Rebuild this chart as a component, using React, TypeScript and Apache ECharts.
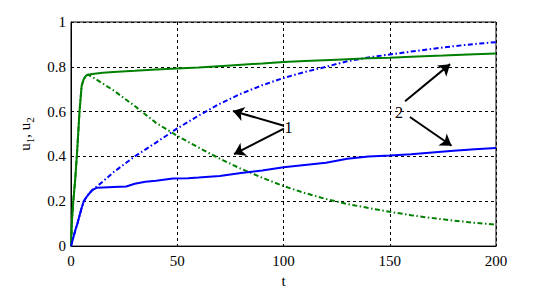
import React, { useEffect, useRef } from "react";
import * as echarts from "echarts";

// ---- data ----
const tGreenSolid = [0, 0.5, 1, 2, 3, 4, 5, 6, 7, 8, 10, 15, 20, 30, 40, 50, 60, 75, 90, 100, 110, 125, 140, 150, 160, 175, 190, 200];
const uGreenSolid = [0, 0.12, 0.19, 0.3, 0.44, 0.6, 0.715, 0.745, 0.76, 0.765, 0.768, 0.774, 0.777, 0.782, 0.788, 0.793, 0.797, 0.806, 0.815, 0.822, 0.826, 0.832, 0.838, 0.841, 0.845, 0.85, 0.856, 0.859];

const tGreenDash = [0, 0.5, 1, 2, 3, 4, 5, 6, 7, 8, 10, 15, 20, 30, 40, 50, 60, 70, 80, 90, 100, 110, 120, 130, 140, 150, 160, 170, 180, 190, 200];
const uGreenDash = [0, 0.12, 0.19, 0.3, 0.44, 0.6, 0.715, 0.745, 0.76, 0.765, 0.755, 0.725, 0.695, 0.625, 0.55, 0.492, 0.44, 0.39, 0.345, 0.305, 0.268, 0.237, 0.21, 0.188, 0.17, 0.153, 0.138, 0.125, 0.114, 0.104, 0.096];

const tBlueSolid = [0, 1, 2, 3, 4, 5, 6, 7, 8, 10, 12, 15, 20, 26, 30, 35, 40, 48, 55, 60, 70, 80, 90, 100, 110, 120, 130, 140, 150, 160, 170, 180, 190, 200];
const uBlueSolid = [0, 0.035, 0.07, 0.1, 0.135, 0.17, 0.2, 0.215, 0.228, 0.25, 0.26, 0.262, 0.264, 0.266, 0.278, 0.287, 0.292, 0.302, 0.303, 0.306, 0.313, 0.326, 0.337, 0.352, 0.362, 0.372, 0.39, 0.4, 0.404, 0.41, 0.418, 0.425, 0.432, 0.438];

const tBlueDash = [0, 1, 2, 3, 4, 5, 6, 7, 8, 10, 12, 15, 20, 30, 40, 50, 60, 70, 80, 90, 100, 110, 120, 130, 140, 150, 160, 170, 180, 190, 200];
const uBlueDash = [0, 0.035, 0.07, 0.1, 0.135, 0.17, 0.2, 0.215, 0.228, 0.25, 0.265, 0.288, 0.33, 0.4, 0.462, 0.525, 0.582, 0.635, 0.68, 0.718, 0.75, 0.777, 0.8, 0.825, 0.842, 0.855, 0.868, 0.88, 0.892, 0.902, 0.91];

// annotation arrows (data coordinates: [tail], [tip])
const arrowTails = [[100.2, 0.537], [100.2, 0.524], [157.2, 0.646], [159.5, 0.576]];
const arrowTips = [[76.2, 0.603], [76.7, 0.41], [178.4, 0.812], [179.1, 0.448]];
const annotationLabels = ["1", "2"];
const annotationPos = [[102.3, 0.528], [154.4, 0.598]];

const FONT = "'Liberation Serif', 'Times New Roman', serif";

const zip = (t: number[], u: number[]) => t.map((v, i) => [v, u[i]]);

export default function App() {
  const ref = useRef<HTMLDivElement>(null);
  useEffect(() => {
    document.body.style.margin = "0";
    const chart = echarts.init(ref.current!, undefined, { renderer: "svg" });
    const dashDot = [5, 2.5, 1.5, 2.5];
    chart.setOption({
      animation: false,
      backgroundColor: "#fff",
      grid: { left: 71, right: 53, top: 22, bottom: 42, show: true, borderColor: "#000", borderWidth: 1, backgroundColor: "transparent" },
      xAxis: {
        type: "value",
        min: 0,
        max: 200,
        interval: 50,
        name: "t",
        nameLocation: "middle",
        nameGap: 25,
        nameTextStyle: { fontFamily: FONT, fontSize: 15, color: "#000" },
        axisLine: { show: true, lineStyle: { color: "#000", width: 1 } },
        axisTick: { show: false },
        axisLabel: { fontFamily: FONT, fontSize: 15, color: "#000", margin: 7 },
        splitLine: { show: true, lineStyle: { color: "#000", type: [3, 3], width: 1 } },
      },
      yAxis: {
        type: "value",
        min: 0,
        max: 1,
        interval: 0.2,
        name: "{a|u}{b|1}{a|, u}{b|2}",
        nameLocation: "middle",
        nameRotate: 90,
        nameGap: 36,
        nameTextStyle: {
          fontFamily: FONT,
          color: "#000",
          rich: {
            a: { fontFamily: FONT, fontSize: 15, color: "#000", lineHeight: 20, verticalAlign: "middle" },
            b: { fontFamily: FONT, fontSize: 11, color: "#000", lineHeight: 20, verticalAlign: "bottom" },
          },
        },
        axisLine: { show: true, lineStyle: { color: "#000", width: 1 } },
        axisTick: { show: false },
        axisLabel: { fontFamily: FONT, fontSize: 15, color: "#000", margin: 5 },
        splitLine: { show: true, lineStyle: { color: "#000", type: [3, 3], width: 1 } },
      },
      series: [
        {
          type: "line",
          data: zip(tGreenDash, uGreenDash),
          showSymbol: false,
          symbol: "none",
          lineStyle: { color: "#008000", width: 2, type: dashDot },
        },
        {
          type: "line",
          data: zip(tBlueDash, uBlueDash),
          showSymbol: false,
          symbol: "none",
          lineStyle: { color: "#0000ff", width: 2, type: dashDot },
        },
        {
          type: "line",
          data: zip(tGreenSolid, uGreenSolid),
          showSymbol: false,
          symbol: "none",
          lineStyle: { color: "#008000", width: 2 },
        },
        {
          type: "line",
          data: zip(tBlueSolid, uBlueSolid),
          showSymbol: false,
          symbol: "none",
          lineStyle: { color: "#0000ff", width: 2 },
        },
        {
          type: "lines",
          coordinateSystem: "cartesian2d",
          symbol: ["none", "arrow"],
          symbolSize: 11,
          lineStyle: { color: "#000", width: 2, opacity: 1, curveness: 0 },
          itemStyle: { color: "#000" },
          data: arrowTails.map((tail, i) => ({ coords: [tail, arrowTips[i]] })),
          silent: true,
        },
      ],
    });
    const texts = annotationPos.map((p, i) => {
      const px = chart.convertToPixel({ gridIndex: 0 }, p) as number[];
      return {
        type: "text",
        x: px[0],
        y: px[1],
        silent: true,
        style: {
          text: annotationLabels[i],
          fill: "#000",
          font: `16px ${FONT}`,
          align: "center",
          verticalAlign: "middle",
        },
      };
    });
    chart.setOption({ graphic: texts });
    return () => chart.dispose();
  }, []);
  return <div ref={ref} style={{ width: 549, height: 293 }} />;
}
